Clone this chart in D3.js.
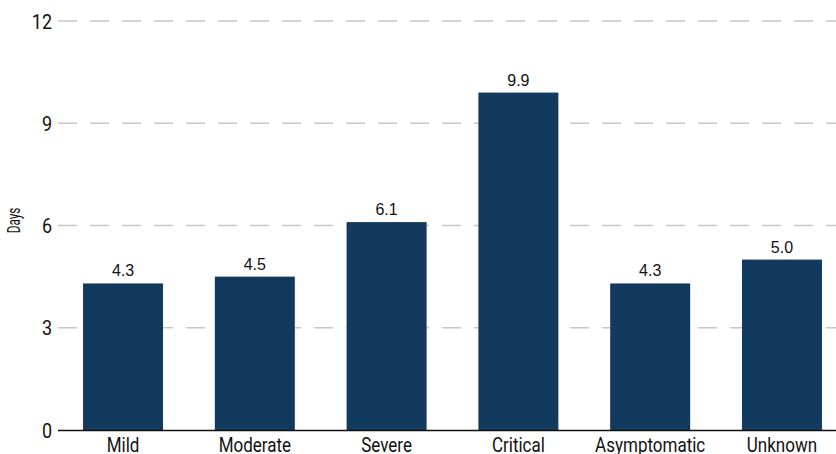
<!DOCTYPE html>
<html><head><meta charset="utf-8">
<script src="https://cdn.jsdelivr.net/npm/d3@7"></script>
<style>body{margin:0;background:#fff}svg{display:block}</style>
</head><body>
<svg id="c" width="836" height="454"></svg>
<script>
const categories = ["Mild","Moderate","Severe","Critical","Asymptomatic","Unknown"];
const values = [4.3,4.5,6.1,9.9,4.3,5.0];
const yTicks = [0,3,6,9,12];

const svg = d3.select("#c");
const W = 836, H = 454;
const x0 = 58, y0 = 430, yTop = 21;
const x = d3.scaleBand().domain(categories).range([x0, 847]).paddingInner(0.393).paddingOuter(0.19);
const y = d3.scaleLinear().domain([0,12]).range([y0, yTop]);
const sans = "Roboto,'Liberation Sans',sans-serif";

// grid
svg.append("g").selectAll("line").data(yTicks.filter(d=>d>0)).join("line")
  .attr("x1", x0).attr("x2", W).attr("y1", d=>y(d)).attr("y2", d=>y(d))
  .attr("stroke", "#c8c8c8").attr("stroke-width", 1.5).attr("stroke-dasharray", "19 13");

// y axis
const ya = svg.append("g").attr("transform", `translate(${x0},0)`)
  .call(d3.axisLeft(y).tickValues(yTicks).tickSize(0).tickPadding(0));
ya.select(".domain").remove();
ya.selectAll("text").attr("font-family", sans).attr("font-size", 20).attr("fill", "#111")
  .attr("x", 0).attr("dy", "0.36em").attr("transform", "translate(-6,0) scale(0.9,1)");

// bars
svg.append("g").selectAll("rect").data(values).join("rect")
  .attr("x", (d,i)=>x(categories[i])).attr("width", x.bandwidth())
  .attr("y", d=>y(d)).attr("height", d=>y0 - y(d)).attr("fill", "#113a5e");

// value labels
svg.append("g").selectAll("text").data(values).join("text")
  .attr("x", (d,i)=>x(categories[i]) + x.bandwidth()/2).attr("y", d=>y(d) - 7)
  .attr("text-anchor", "middle").attr("font-family", "'Liberation Sans',Arial,sans-serif")
  .attr("font-size", 16).attr("fill", "#111").text(d=>d.toFixed(1));

// x axis
const xa = svg.append("g").attr("transform", `translate(0,${y0})`)
  .call(d3.axisBottom(x).tickSize(0).tickPadding(0));
xa.select(".domain").remove();
xa.selectAll("text").attr("font-family", sans).attr("font-size", 20).attr("fill", "#111")
  .attr("y", 22).attr("dy", null).attr("transform", "scale(0.85,1)");
svg.append("line").attr("x1", x0).attr("x2", W).attr("y1", y0+0.5).attr("y2", y0+0.5)
  .attr("stroke", "#111").attr("stroke-width", 1.5);

// y label
svg.append("text").attr("transform", `translate(20,${(y0+yTop)/2 - 5}) rotate(-90) scale(0.62,1)`)
  .attr("text-anchor", "middle").attr("font-family", sans).attr("font-size", 19)
  .attr("fill", "#111").text("Days");
</script>
</body></html>
